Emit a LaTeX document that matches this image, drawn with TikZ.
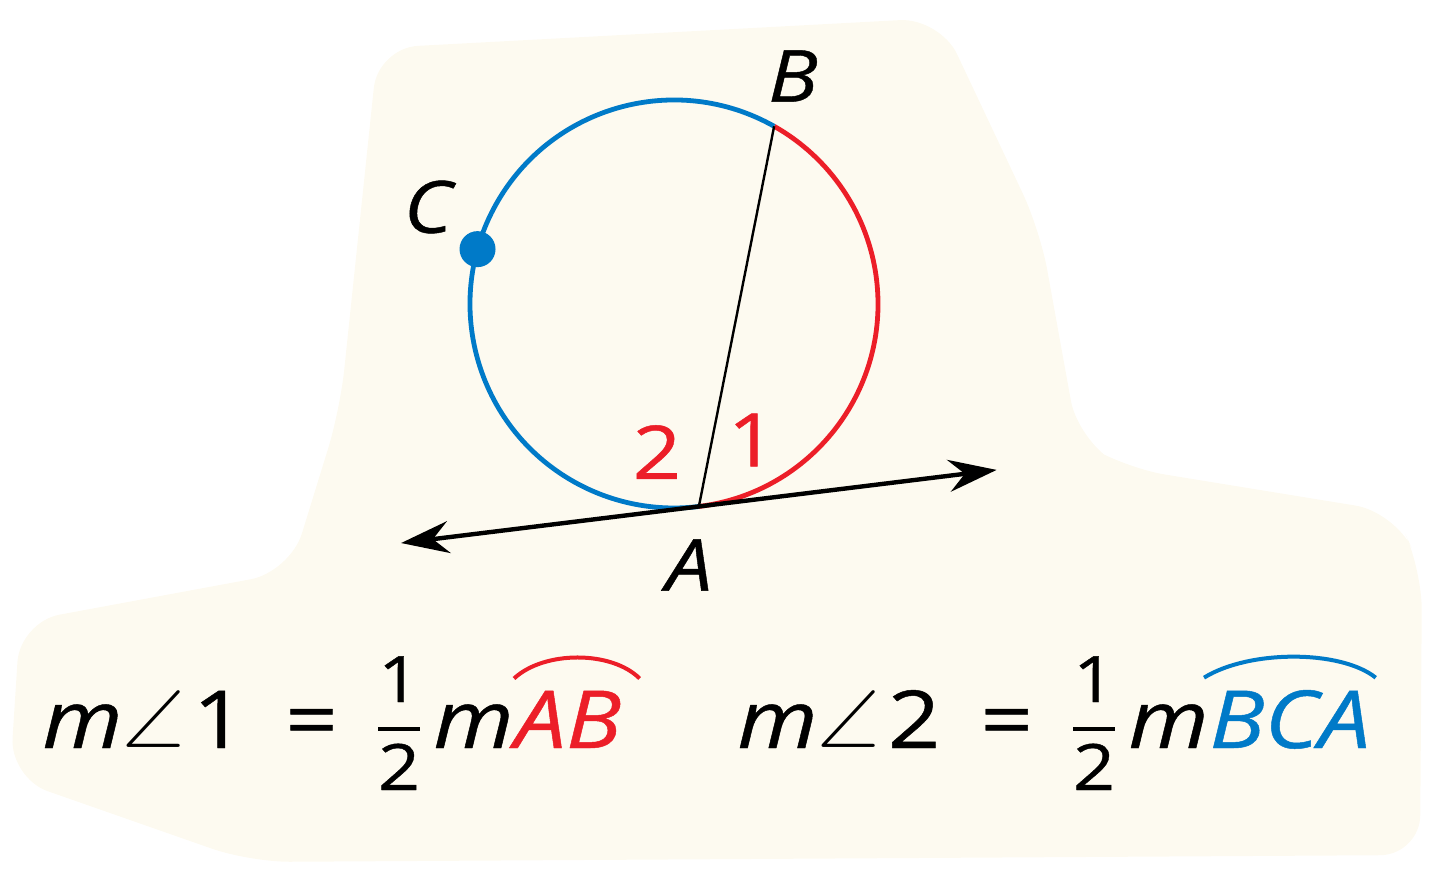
\documentclass[tikz,border=0pt]{standalone}
\usepackage{fontspec}
\setmainfont{Open Sans}[FakeStretch=1.15, FakeBold=0.6]
\newfontfamily\anglefont{latinmodern-math.otf}
\usetikzlibrary{arrows.meta,positioning}
\definecolor{arcred}{RGB}{236,30,40}
\definecolor{arcblue}{RGB}{0,122,200}
\definecolor{paper}{RGB}{253,250,240}
\newcommand{\halfstack}{\raisebox{-21pt}{\fontsize{32}{42}\selectfont\setlength{\arrayrulewidth}{2pt}\begin{tabular}[b]{@{}c@{}}1\\\hline 2\end{tabular}}}
\tikzset{
  rim/.style={line width=2.4pt},
  ptlabel/.style={font=\fontsize{36}{40}\selectfont\itshape, inner sep=0pt},
  anglenum/.style={font=\fontsize{37}{40}\selectfont, text=arcred, inner sep=0pt},
  formula/.style={font=\fontsize{40}{42}\selectfont, inner sep=0pt, anchor=base west},
  overarc/.style={line width=2pt},
}
\begin{document}
\begin{tikzpicture}[x=0.5pt,y=0.5pt,yscale=-1]
  \useasboundingbox (0,0) rectangle (1440,870);
  % background
  \fill[paper, rounded corners=20pt] (378,48) -- (940,18) -- (1040,230) -- (1078,440) -- (1125,468) -- (1395,512) -- (1422,570) -- (1420,855) -- (250,862) -- (10,778) -- (20,622) -- (290,572) -- (340,410) -- cycle;
  % circle and points
  \coordinate (O) at (674,304);
  \path (O) ++(83:204) coordinate (A)
        (O) ++(-60.6:204) coordinate (B)
        (O) ++(-164.4:204) coordinate (C);
  \draw[rim, arcred] (A) arc[start angle=83, end angle=-60.6, radius=204];
  \draw[rim, arcblue] (B) arc[start angle=-60.6, end angle=-277, radius=204];
  \draw[line width=1.2pt] (A) -- (B);
  \path (A) ++(173:300) coordinate (tanleft)
        (A) ++(-7:300) coordinate (tanright);
  \draw[line width=2.2pt, {Stealth[length=24pt,width=16pt,inset=8pt]}-{Stealth[length=24pt,width=16pt,inset=8pt]}] (tanleft) -- (tanright);
  \fill[arcblue] (C) circle[radius=18];
  % labels
  \node[ptlabel] (labB) at (793,76) {B};
  \node[ptlabel] (labC) at (428,207) {C};
  \node[ptlabel] (labA) at (689,565) {A};
  \node[anglenum] (two) at (657,452) {2};
  \node[anglenum] (one) at (752,440) {1};
  % formulas
  \node[formula] (eqone) at (42,748) {\textit{m}{\anglefont ∠}\hspace{0.1em}1\hspace{0.5em}=\hspace{0.5em}\halfstack\,\textit{m}};
  \node[formula, text=arcred, base right=0pt of eqone] (arcone) {\textit{AB}};
  \draw[overarc, arcred] ([shift={(0,-12)}]arcone.north west) .. controls ([shift={(30,-40)}]arcone.north west) and ([shift={(-10,-40)}]arcone.north east) .. ([shift={(18,-12)}]arcone.north east);
  \node[formula] (eqtwo) at (737,748) {\textit{m}{\anglefont ∠}\hspace{0.1em}2\hspace{0.5em}=\hspace{0.5em}\halfstack\,\textit{m}};
  \node[formula, text=arcblue, base right=0pt of eqtwo] (arctwo) {\textit{BCA}};
  \draw[overarc, arcblue] ([shift={(-5,-12)}]arctwo.north west) .. controls ([shift={(40,-40)}]arctwo.north west) and ([shift={(-30,-40)}]arctwo.north east) .. ([shift={(5,-12)}]arctwo.north east);
\end{tikzpicture}
\end{document}
